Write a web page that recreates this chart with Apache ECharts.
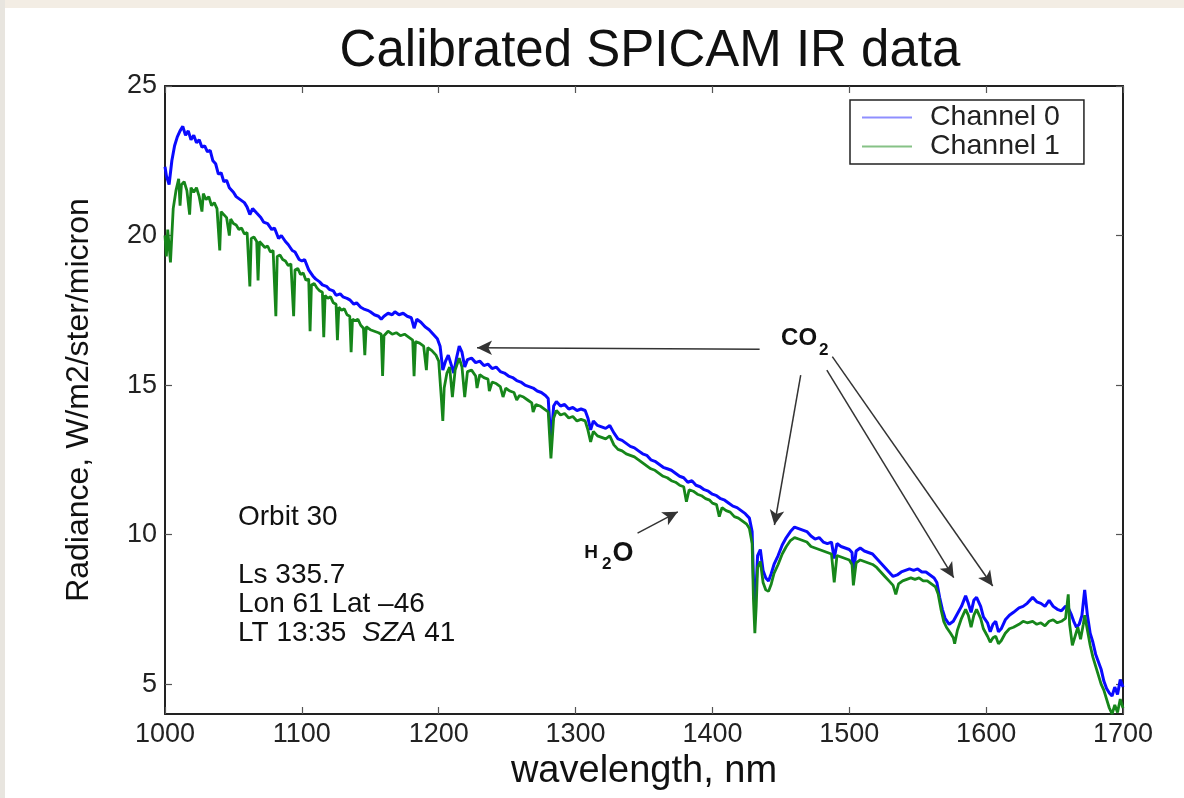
<!DOCTYPE html>
<html><head><meta charset="utf-8">
<script src="https://cdn.jsdelivr.net/npm/echarts@6/dist/echarts.min.js"></script>
<style>html,body{margin:0;padding:0;background:#fff}#c{width:1184px;height:798px}</style>
</head><body><div id="c"></div>
<script>
// ---- data (wavelength nm, radiance W/m2/ster/micron) ----
const channel0 = [[1000,22.3],[1001,22.0],[1003,21.7],[1005,22.5],[1007,23.0],[1009,23.3],[1011,23.5],[1013,23.65],[1015,23.35],[1017,23.5],[1019,23.2],[1021,23.35],[1023,23.1],[1025,23.2],[1027,22.95],[1029,23.0],[1031,22.8],[1033,22.85],[1035,22.5],[1037,22.4],[1039,22.05],[1041,22.1],[1043,21.8],[1045,21.85],[1047,21.6],[1050,21.45],[1052,21.3],[1055,21.2],[1058,21.1],[1060,20.95],[1062,20.7],[1064,20.9],[1067,20.75],[1070,20.6],[1072,20.45],[1075,20.4],[1078,20.2],[1080,20.25],[1083,19.9],[1085,20.0],[1088,19.8],[1090,19.7],[1093,19.5],[1095,19.45],[1098,19.2],[1100,19.15],[1102,19.2],[1105,18.85],[1108,18.65],[1110,18.55],[1113,18.45],[1115,18.35],[1118,18.3],[1120,18.2],[1123,18.15],[1125,18.0],[1128,18.05],[1130,17.95],[1133,17.9],[1135,17.85],[1138,17.7],[1140,17.75],[1143,17.6],[1145,17.55],[1148,17.5],[1150,17.45],[1153,17.35],[1156,17.3],[1158,17.2],[1160,17.3],[1163,17.4],[1166,17.35],[1168,17.45],[1171,17.35],[1174,17.4],[1177,17.3],[1180,17.25],[1182,16.9],[1184,17.2],[1187,17.1],[1190,16.95],[1193,16.85],[1196,16.7],[1199,16.55],[1201,16.3],[1203,15.5],[1205,15.8],[1207,16.0],[1209,15.7],[1211,15.4],[1213,15.9],[1215,16.3],[1217,16.1],[1219,15.6],[1221,15.85],[1224,15.9],[1227,15.75],[1230,15.8],[1233,15.65],[1236,15.7],[1239,15.55],[1242,15.6],[1245,15.45],[1248,15.4],[1251,15.3],[1254,15.25],[1257,15.15],[1260,15.1],[1263,15.0],[1266,14.95],[1269,14.9],[1272,14.8],[1275,14.75],[1278,14.65],[1280,14.55],[1282,13.1],[1284,14.3],[1286,14.45],[1289,14.3],[1292,14.35],[1295,14.2],[1298,14.25],[1301,14.15],[1304,14.2],[1307,14.15],[1309,13.9],[1311,13.5],[1313,13.8],[1316,13.65],[1319,13.6],[1322,13.55],[1325,13.65],[1328,13.4],[1331,13.2],[1334,13.15],[1337,13.05],[1340,12.95],[1343,12.9],[1346,12.8],[1349,12.7],[1352,12.65],[1355,12.5],[1358,12.45],[1361,12.35],[1364,12.25],[1367,12.2],[1370,12.15],[1373,12.05],[1376,11.95],[1379,11.9],[1382,11.75],[1385,11.8],[1388,11.65],[1391,11.6],[1394,11.5],[1397,11.45],[1400,11.35],[1403,11.3],[1406,11.2],[1409,11.15],[1412,11.05],[1415,10.95],[1418,10.9],[1421,10.8],[1424,10.7],[1427,10.55],[1429,10.1],[1430,8.5],[1431,7.6],[1432,8.3],[1433,9.3],[1435,9.5],[1437,8.8],[1439,8.55],[1441,8.45],[1443,8.7],[1445,9.0],[1448,9.3],[1451,9.65],[1454,9.9],[1457,10.1],[1460,10.25],[1463,10.2],[1466,10.15],[1469,10.1],[1472,9.95],[1475,9.85],[1478,9.9],[1481,9.75],[1484,9.7],[1487,9.75],[1489,9.2],[1491,9.7],[1494,9.6],[1497,9.55],[1500,9.5],[1502,9.4],[1503,8.7],[1505,9.45],[1508,9.55],[1511,9.45],[1514,9.4],[1517,9.35],[1520,9.2],[1523,9.05],[1526,8.9],[1529,8.75],[1532,8.6],[1535,8.65],[1538,8.75],[1541,8.8],[1544,8.85],[1547,8.8],[1550,8.85],[1553,8.75],[1556,8.75],[1559,8.65],[1562,8.55],[1564,8.4],[1566,7.9],[1568,7.5],[1570,7.2],[1573,7.0],[1576,7.1],[1579,7.35],[1582,7.6],[1585,7.95],[1587,7.7],[1589,7.4],[1591,7.8],[1593,7.9],[1596,7.6],[1598,7.25],[1601,7.05],[1603,6.75],[1605,7.0],[1607,7.1],[1609,6.75],[1611,6.85],[1614,7.15],[1617,7.3],[1620,7.4],[1624,7.55],[1627,7.6],[1630,7.7],[1634,7.9],[1637,7.75],[1640,7.7],[1643,7.6],[1646,7.8],[1649,7.6],[1652,7.5],[1655,7.45],[1658,7.6],[1660,7.55],[1662,7.35],[1664,7.1],[1666,6.9],[1668,7.0],[1670,7.3],[1672,8.15],[1674,7.3],[1676,6.7],[1678,6.4],[1680,6.0],[1682,5.75],[1684,5.5],[1686,5.1],[1688,4.85],[1690,4.7],[1692,4.6],[1694,4.9],[1696,4.65],[1698,5.15],[1700,4.9]];
const channel1 = [[1000,20.0],[1001,19.3],[1002,20.2],[1004,19.1],[1006,20.9],[1008,21.5],[1010,21.9],[1011,21.0],[1012,21.7],[1014,21.8],[1016,21.5],[1018,20.7],[1019,21.6],[1021,21.45],[1023,21.6],[1025,21.3],[1027,20.8],[1028,21.4],[1030,21.2],[1032,21.3],[1034,21.0],[1036,21.1],[1038,20.9],[1040,19.5],[1041,20.8],[1043,20.7],[1045,20.6],[1047,20.0],[1048,20.55],[1050,20.4],[1052,20.35],[1054,20.2],[1056,20.25],[1058,20.05],[1060,20.1],[1062,18.3],[1063,19.9],[1065,19.95],[1067,19.8],[1068,18.5],[1069,19.8],[1071,19.7],[1073,19.6],[1075,19.65],[1077,19.45],[1079,19.5],[1081,17.3],[1082,19.3],[1084,19.35],[1086,19.2],[1088,19.15],[1090,19.0],[1092,19.05],[1094,17.3],[1095,18.85],[1097,18.9],[1099,18.7],[1101,18.75],[1103,18.5],[1105,18.55],[1106,16.8],[1107,18.35],[1109,18.4],[1111,18.25],[1113,18.15],[1115,18.1],[1116,16.6],[1117,18.0],[1119,17.9],[1121,17.95],[1123,17.75],[1125,17.7],[1126,16.5],[1127,17.6],[1129,17.5],[1131,17.55],[1133,17.35],[1135,17.3],[1136,16.1],[1137,17.2],[1139,17.15],[1141,17.2],[1143,17.0],[1145,16.9],[1146,16.0],[1147,16.95],[1150,16.85],[1153,16.8],[1156,16.75],[1158,16.7],[1159,15.3],[1160,16.65],[1163,16.8],[1166,16.7],[1169,16.75],[1172,16.65],[1175,16.7],[1178,16.6],[1181,16.5],[1182,15.3],[1183,16.45],[1186,16.4],[1189,16.3],[1191,15.5],[1192,16.25],[1195,16.15],[1198,16.0],[1200,15.8],[1202,14.5],[1203,13.8],[1204,14.9],[1206,15.4],[1208,15.6],[1210,14.6],[1212,15.5],[1215,15.9],[1217,15.6],[1219,14.6],[1221,15.45],[1224,15.5],[1227,15.3],[1228,14.9],[1230,15.35],[1233,15.25],[1236,15.2],[1237,14.8],[1239,15.1],[1242,15.05],[1245,14.95],[1247,14.6],[1249,14.9],[1252,14.8],[1255,14.75],[1257,14.5],[1259,14.65],[1262,14.6],[1265,14.5],[1268,14.4],[1269,14.1],[1271,14.35],[1274,14.3],[1277,14.2],[1280,14.1],[1282,12.55],[1284,13.9],[1286,14.15],[1289,14.0],[1292,14.05],[1295,13.9],[1298,13.95],[1301,13.8],[1304,13.85],[1307,13.8],[1309,13.5],[1311,13.1],[1313,13.45],[1316,13.3],[1319,13.25],[1322,13.2],[1325,13.3],[1328,13.0],[1331,12.85],[1334,12.8],[1337,12.7],[1340,12.65],[1343,12.6],[1346,12.5],[1349,12.4],[1352,12.3],[1355,12.2],[1358,12.15],[1361,12.05],[1364,11.95],[1367,11.9],[1370,11.8],[1373,11.75],[1376,11.65],[1379,11.6],[1381,11.1],[1383,11.5],[1386,11.45],[1389,11.35],[1392,11.3],[1395,11.2],[1398,11.15],[1400,11.05],[1403,11.0],[1405,10.6],[1407,10.9],[1410,10.8],[1413,10.75],[1416,10.6],[1419,10.55],[1422,10.45],[1425,10.35],[1427,10.2],[1429,9.7],[1430,7.8],[1431,6.7],[1432,7.6],[1433,8.9],[1435,9.1],[1437,8.4],[1439,8.15],[1441,8.1],[1443,8.35],[1445,8.7],[1448,9.0],[1451,9.35],[1454,9.6],[1457,9.8],[1460,9.9],[1463,9.85],[1466,9.8],[1469,9.75],[1472,9.6],[1475,9.55],[1478,9.5],[1481,9.45],[1484,9.4],[1487,9.35],[1489,8.4],[1491,9.3],[1494,9.25],[1497,9.2],[1500,9.15],[1502,9.0],[1503,8.3],[1505,9.05],[1508,9.15],[1511,9.1],[1514,9.05],[1517,9.0],[1520,8.9],[1523,8.75],[1526,8.6],[1529,8.45],[1532,8.3],[1534,8.0],[1536,8.35],[1539,8.45],[1542,8.5],[1545,8.55],[1548,8.5],[1551,8.55],[1554,8.45],[1557,8.45],[1560,8.35],[1563,8.25],[1565,8.0],[1567,7.5],[1569,7.1],[1571,6.9],[1574,6.7],[1576,6.55],[1577,6.35],[1579,6.8],[1582,7.2],[1585,7.5],[1587,7.3],[1589,6.9],[1591,7.3],[1593,7.5],[1596,7.2],[1598,6.85],[1601,6.6],[1603,6.4],[1605,6.55],[1607,6.6],[1609,6.35],[1611,6.45],[1614,6.7],[1617,6.85],[1620,6.9],[1624,7.0],[1627,7.1],[1630,7.05],[1634,7.1],[1637,7.0],[1640,7.05],[1643,6.95],[1646,7.1],[1649,7.15],[1652,7.05],[1655,7.1],[1658,7.2],[1660,8.0],[1661,7.0],[1663,6.3],[1665,6.6],[1667,6.9],[1669,6.5],[1671,7.0],[1672,7.3],[1674,6.8],[1676,6.3],[1678,5.9],[1680,5.6],[1682,5.3],[1684,5.0],[1686,4.8],[1688,4.5],[1690,4.2],[1692,4.0],[1694,4.3],[1696,4.05],[1698,4.5],[1700,4.2]];
const seriesNames = ['Channel 0', 'Channel 1'];
const xTicks = [1000, 1100, 1200, 1300, 1400, 1500, 1600, 1700];
const yTicks = [5, 10, 15, 20, 25];
const co2Arrows = [
  [[1434.5, 16.2], [1228, 16.25]],
  [[1464.5, 15.33], [1445.3, 10.32]],
  [[1483.6, 15.5], [1576.3, 8.56]],
  [[1487.6, 15.95], [1604.8, 8.28]]
];
const h2oArrow = [[1345.3, 10.05], [1374.7, 10.76]];
const co2LabelAt = [1467.5, 16.57];
const h2oLabelAt = [1324.3, 9.38];
const infoLines = ['Orbit 30', '', 'Ls 335.7', 'Lon 61 Lat \u201346', 'LT 13:35  {i|SZA} 41'];

const FONT = '"Liberation Sans", Arial, Helvetica, sans-serif';
const chart = echarts.init(document.getElementById('c'), null, {renderer: 'canvas'});

const axisLine = {show: true, lineStyle: {color: '#222', width: 2}};
const tick = {show: true, inside: true, length: 7, lineStyle: {color: '#555', width: 1.2}};
const plainNum = v => String(v);

const arrowLines = co2Arrows.concat([h2oArrow]).map(a => [{coord: a[0]}, {coord: a[1]}]);

chart.setOption({
  animation: false,
  backgroundColor: '#ffffff',
  textStyle: {fontFamily: FONT},
  title: {
    text: 'Calibrated SPICAM IR data',
    left: 645, top: 21, textAlign: 'center',
    textStyle: {fontFamily: FONT, fontSize: 51, fontWeight: 'normal', color: '#111'}
  },
  grid: {left: 165, right: 61, top: 86, bottom: 84, containLabel: false},
  legend: {
    data: [
      {name: seriesNames[0], itemStyle: {color: '#8f8fff'}},
      {name: seriesNames[1], itemStyle: {color: '#86c286'}}
    ],
    orient: 'vertical', left: 850, top: 100,
    icon: 'rect', itemWidth: 50, itemHeight: 2, itemGap: 0,
    padding: [3, 24, 3, 12],
    borderColor: '#222', borderWidth: 1.5, backgroundColor: '#fff', borderRadius: 0,
    textStyle: {fontFamily: FONT, fontSize: 28.5, color: '#222', lineHeight: 28, padding: [0, 0, 0, 13]},
    selectedMode: false
  },
  xAxis: [{
    type: 'value', min: xTicks[0], max: xTicks[xTicks.length - 1], interval: 100,
    position: 'bottom',
    name: 'wavelength, nm', nameLocation: 'middle', nameGap: 26,
    nameTextStyle: {fontFamily: FONT, fontSize: 38, color: '#111'},
    axisLine: axisLine, axisTick: tick, splitLine: {show: false},
    axisLabel: {fontFamily: FONT, fontSize: 27, color: '#222', margin: 7, formatter: plainNum}
  }, {
    type: 'value', min: xTicks[0], max: xTicks[xTicks.length - 1], interval: 100,
    position: 'top', axisLine: axisLine, axisTick: tick, splitLine: {show: false},
    axisLabel: {show: false}
  }],
  yAxis: [{
    type: 'value', min: 4, max: 25, position: 'left',
    name: 'Radiance, W/m2/ster/micron', nameLocation: 'middle', nameGap: 70,
    nameTextStyle: {fontFamily: FONT, fontSize: 32, color: '#111'},
    axisLine: axisLine,
    axisTick: Object.assign({customValues: yTicks}, tick),
    splitLine: {show: false},
    axisLabel: {customValues: yTicks, fontFamily: FONT, fontSize: 27, color: '#222', margin: 8, formatter: plainNum}
  }, {
    type: 'value', min: 4, max: 25, position: 'right',
    axisLine: axisLine,
    axisTick: Object.assign({customValues: yTicks}, tick),
    splitLine: {show: false},
    axisLabel: {show: false, customValues: yTicks}
  }],
  series: [{
    name: seriesNames[0], type: 'line', data: channel0, showSymbol: false,
    xAxisIndex: 0, yAxisIndex: 0,
    lineStyle: {color: '#0a0aff', width: 3}, itemStyle: {color: '#0a0aff'},
    emphasis: {disabled: true}, silent: true, z: 2
  }, {
    name: seriesNames[1], type: 'line', data: channel1, showSymbol: false,
    xAxisIndex: 0, yAxisIndex: 0,
    lineStyle: {color: '#16861a', width: 2.8}, itemStyle: {color: '#16861a'},
    emphasis: {disabled: true}, silent: true, z: 3
  }, {
    name: 'annotations', type: 'line', data: [], xAxisIndex: 0, yAxisIndex: 0,
    silent: true, z: 4,
    markLine: {
      silent: true, animation: false,
      symbol: ['none', 'arrow'], symbolSize: [11, 15],
      label: {show: false},
      lineStyle: {color: '#333', width: 1.5, type: 'solid'},
      emphasis: {disabled: true},
      data: arrowLines
    },
    markPoint: {
      silent: true, animation: false,
      symbol: 'circle', symbolSize: 1,
      itemStyle: {color: 'rgba(0,0,0,0)'},
      label: {show: true, position: 'inside', color: '#111', fontFamily: FONT},
      data: [{
        coord: co2LabelAt,
        label: {
          formatter: '{a|CO}{b|2}',
          rich: {
            a: {fontSize: 24, fontWeight: 'bold', fontFamily: FONT, color: '#111'},
            b: {fontSize: 17, fontWeight: 'bold', fontFamily: FONT, color: '#111', padding: [24, 0, 0, 2]}
          }
        }
      }, {
        coord: h2oLabelAt,
        label: {
          formatter: '{h|H}{s|2}{o|O}',
          rich: {
            h: {fontSize: 19, fontWeight: 'bold', fontFamily: FONT, color: '#111'},
            s: {fontSize: 17, fontWeight: 'bold', fontFamily: FONT, color: '#111', padding: [22, 1, 0, 4]},
            o: {fontSize: 27, fontWeight: 'bold', fontFamily: FONT, color: '#111'}
          }
        }
      }]
    }
  }],
  graphic: [
    {type: 'rect', shape: {x: 0, y: 0, width: 1184, height: 8}, style: {fill: '#f3ede4'}, silent: true, z: 100},
    {type: 'rect', shape: {x: 0, y: 0, width: 5, height: 798}, style: {fill: '#e8e5df'}, silent: true, z: 100},
    {
      type: 'text', left: 238, top: 503, silent: true, z: 100,
      style: {
        text: infoLines.join('\n'),
        fontFamily: FONT, fontSize: 28, lineHeight: 29, fill: '#111',
        rich: {i: {fontStyle: 'italic', fontFamily: FONT, fontSize: 28, lineHeight: 29, fill: '#111'}}
      }
    }
  ]
});
</script>
</body></html>
